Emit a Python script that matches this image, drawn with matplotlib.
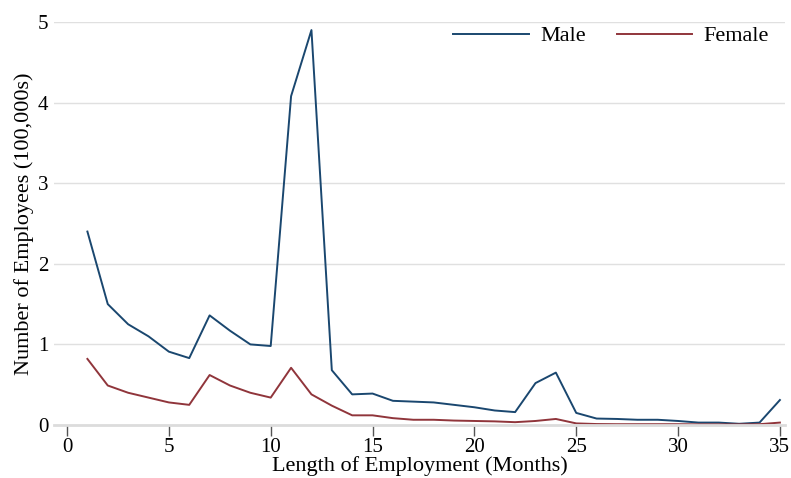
import numpy as np
import matplotlib.pyplot as plt

# Length of employment (months) and number of employees (100,000s)
months = np.arange(1, 36)
male = [2.40, 1.50, 1.25, 1.10, 0.91, 0.83, 1.36, 1.17, 1.00, 0.98,
        4.08, 4.90, 0.68, 0.38, 0.39, 0.30, 0.29, 0.28, 0.25, 0.22,
        0.18, 0.16, 0.52, 0.65, 0.15, 0.08, 0.075, 0.065, 0.065, 0.05,
        0.03, 0.03, 0.015, 0.03, 0.31]
female = [0.82, 0.49, 0.40, 0.34, 0.28, 0.25, 0.62, 0.49, 0.40, 0.34,
          0.71, 0.38, 0.24, 0.12, 0.12, 0.085, 0.065, 0.065, 0.055, 0.05,
          0.045, 0.035, 0.05, 0.075, 0.02, 0.012, 0.01, 0.01, 0.01, 0.01,
          0.008, 0.008, 0.008, 0.01, 0.03]

navy = '#1a476f'
maroon = '#90353b'
plt.rcParams['font.family'] = ['Liberation Serif', 'DejaVu Serif']
fs = 15

fig = plt.figure(figsize=(7.91, 4.78), dpi=100)
ax = fig.add_axes([54 / 791, 53 / 478, 731 / 791, 403 / 478])

ax.plot(months, male, color=navy, lw=1.4, label='Male')
ax.plot(months, female, color=maroon, lw=1.4, label='Female')

ax.set_xlim(-0.64, 35.25)
ax.set_ylim(0, 5)
ax.set_xticks(np.arange(0, 36, 5))
ax.set_yticks(np.arange(0, 6, 1))
ax.grid(axis='y', color='#e0e0e0', lw=1)
ax.set_axisbelow(True)

for s in ['top', 'right', 'left']:
    ax.spines[s].set_visible(False)
ax.spines['bottom'].set_color('#dcdcdc')
ax.spines['bottom'].set_linewidth(2)
ax.tick_params(axis='x', length=8, width=1, color='#555555', labelsize=fs, pad=1)
ax.tick_params(axis='y', length=0, labelsize=fs, pad=4)

ax.set_xlabel('Length of Employment (Months)', fontsize=16, labelpad=0)
ax.set_ylabel('Number of Employees (100,000s)', fontsize=16, labelpad=3)

ax.legend(loc='upper right', bbox_to_anchor=(1.005, 1.04), ncol=2, frameon=False,
          fontsize=16, handlelength=3.4, columnspacing=1.4, handletextpad=0.5)

fig.savefig('out.png', dpi=100)
